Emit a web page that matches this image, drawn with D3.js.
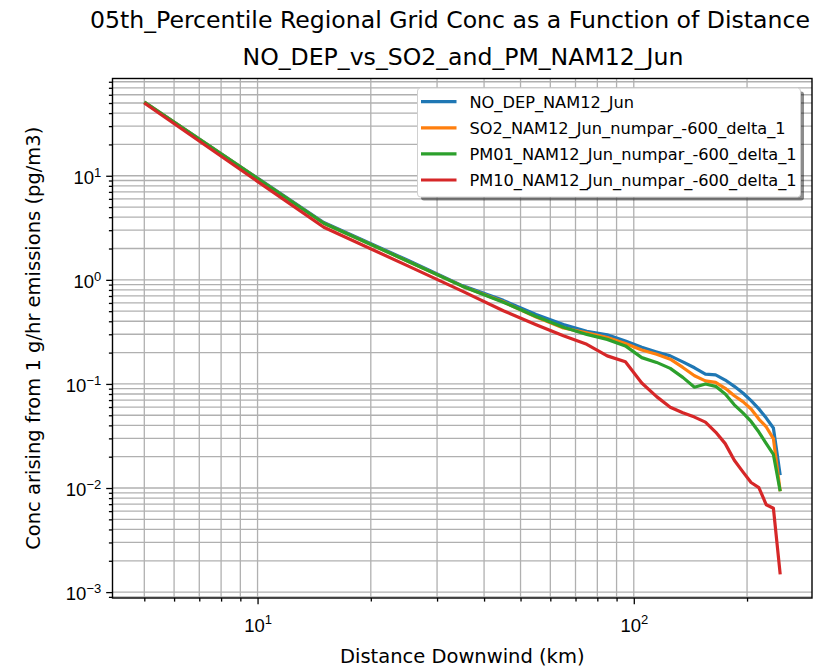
<!DOCTYPE html>
<html>
<head>
<meta charset="utf-8">
<script src="https://cdn.jsdelivr.net/npm/d3@7"></script>
<style>
  body { margin: 0; background: #fff; }
  svg { display: block; font-family: "DejaVu Sans", sans-serif; }
</style>
</head>
<body>
<div id="chart"></div>
<script>
// distance bins (km)
const distance = [5, 15, 25, 35, 45, 55, 65, 75, 85, 95, 105, 115, 125, 135, 145, 155, 165, 175, 185, 195, 205, 215, 225, 235, 245]

// conc per series (pg/m3 from 1 g/hr)
const noDep = [51, 3.55, 1.55, 0.88, 0.635, 0.465, 0.372, 0.32, 0.297, 0.258, 0.225, 0.203, 0.186, 0.163, 0.143, 0.124, 0.122, 0.109, 0.0948, 0.0819, 0.0692, 0.0576, 0.047, 0.0377, 0.0133]
const so2 = [51, 3.5, 1.52, 0.87, 0.615, 0.44, 0.345, 0.31, 0.279, 0.245, 0.212, 0.193, 0.173, 0.144, 0.12, 0.107, 0.1035, 0.0907, 0.077, 0.0676, 0.0575, 0.046, 0.0386, 0.0298, 0.0093]
const pm01 = [51, 3.5, 1.52, 0.87, 0.61, 0.445, 0.35, 0.299, 0.268, 0.232, 0.179, 0.161, 0.141, 0.1156, 0.093, 0.0998, 0.0948, 0.08, 0.063, 0.0527, 0.0436, 0.0345, 0.0267, 0.021, 0.0093]
const pm10 = [50, 3.2, 1.37, 0.78, 0.505, 0.37, 0.29, 0.24, 0.186, 0.163, 0.102, 0.0755, 0.0598, 0.0528, 0.048, 0.043, 0.0345, 0.0267, 0.0185, 0.0143, 0.0113, 0.0101, 0.0069, 0.0064, 0.00148]

const seriesNames = [
  "NO_DEP_NAM12_Jun",
  "SO2_NAM12_Jun_numpar_-600_delta_1",
  "PM01_NAM12_Jun_numpar_-600_delta_1",
  "PM10_NAM12_Jun_numpar_-600_delta_1"
]
const colors = ["#1f77b4", "#ff7f0e", "#2ca02c", "#d62728"]

const titleLines = [
  "05th_Percentile Regional Grid Conc as a Function of Distance",
  "NO_DEP_vs_SO2_and_PM_NAM12_Jun"
]
const xLabel = "Distance Downwind (km)"
const yLabel = "Conc arising from 1 g/hr emissions (pg/m3)"

;(function () {
  const width = 816
  const height = 668
  const plot = { left: 112.5, right: 812, top: 78.5, bottom: 598 }

  const series = [noDep, so2, pm01, pm10].map((vals, i) => ({
    name: seriesNames[i],
    color: colors[i],
    points: distance.map((d, j) => ({ x: d, y: vals[j] }))
  }))

  // matplotlib style 5% margins in log space
  function logPad(lo, hi) {
    const a = Math.log10(lo), b = Math.log10(hi)
    const p = (b - a) * 0.05
    return [Math.pow(10, a - p), Math.pow(10, b + p)]
  }
  const allY = [].concat(noDep, so2, pm01, pm10)

  const x = d3.scaleLog()
    .domain(logPad(d3.min(distance), d3.max(distance)))
    .range([plot.left, plot.right])
  const y = d3.scaleLog()
    .domain(logPad(d3.min(allY), d3.max(allY)))
    .range([plot.bottom, plot.top])

  const svg = d3.select("#chart")
    .append("svg")
    .attr("width", width)
    .attr("height", height)

  // tick values
  function logTicks(scale) {
    const [lo, hi] = scale.domain()
    const major = [], minor = []
    for (let k = Math.floor(Math.log10(lo)); k <= Math.ceil(Math.log10(hi)); k++) {
      for (let m = 1; m < 10; m++) {
        const v = m * Math.pow(10, k)
        if (v < lo || v > hi) continue
        if (m === 1) major.push(v)
        else minor.push(v)
      }
    }
    return { major, minor }
  }
  const xt = logTicks(x)
  const yt = logTicks(y)

  // grid (major + minor)
  const grid = svg.append("g").attr("stroke", "#b0b0b0").attr("stroke-width", 1.3)
  grid.selectAll(".gx")
    .data(xt.major.concat(xt.minor))
    .join("line")
    .attr("x1", d => x(d)).attr("x2", d => x(d))
    .attr("y1", plot.top).attr("y2", plot.bottom)
  grid.selectAll(".gy")
    .data(yt.major.concat(yt.minor))
    .join("line")
    .attr("y1", d => y(d)).attr("y2", d => y(d))
    .attr("x1", plot.left).attr("x2", plot.right)

  // lines
  const line = d3.line().x(d => x(d.x)).y(d => y(d.y))
  svg.append("g")
    .selectAll("path")
    .data(series)
    .join("path")
    .attr("d", d => line(d.points))
    .attr("fill", "none")
    .attr("stroke", d => d.color)
    .attr("stroke-width", 3.2)
    .attr("stroke-linejoin", "round")

  // superscript labels like 10^k
  function powLabel(sel) {
    sel.text(null).each(function (d) {
      const t = d3.select(this)
      t.append("tspan").text("10")
      t.append("tspan")
        .attr("dy", "-0.55em")
        .style("font-size", "13px")
        .text(Math.round(Math.log10(d)).toString().replace("-", "\u2212"))
    })
  }

  // x axis
  const xMajor = svg.append("g").attr("transform", `translate(0,${plot.bottom})`)
    .call(d3.axisBottom(x).tickValues(xt.major).tickSize(6.3).tickPadding(6))
  xMajor.selectAll(".tick text")
    .style("font-size", "18.5px")
    .attr("fill", "#000")
    .attr("dy", "1.15em")
    .call(powLabel)
  svg.append("g").attr("transform", `translate(0,${plot.bottom})`)
    .call(d3.axisBottom(x).tickValues(xt.minor).tickSize(3.6).tickFormat(""))

  // y axis
  const yMajor = svg.append("g").attr("transform", `translate(${plot.left},0)`)
    .call(d3.axisLeft(y).tickValues(yt.major).tickSize(6.3).tickPadding(5))
  yMajor.selectAll(".tick text")
    .style("font-size", "18.5px")
    .attr("fill", "#000")
    .attr("dy", "0.42em")
    .call(powLabel)
  svg.append("g").attr("transform", `translate(${plot.left},0)`)
    .call(d3.axisLeft(y).tickValues(yt.minor).tickSize(3.6).tickFormat(""))

  svg.selectAll(".domain").remove()
  svg.selectAll(".tick line").attr("stroke", "#000").attr("stroke-width", 1.3)

  // frame
  svg.append("rect")
    .attr("x", plot.left).attr("y", plot.top)
    .attr("width", plot.right - plot.left)
    .attr("height", plot.bottom - plot.top)
    .attr("fill", "none")
    .attr("stroke", "#000")
    .attr("stroke-width", 1.4)

  // titles
  svg.append("text")
    .attr("x", 450).attr("y", 28)
    .attr("text-anchor", "middle")
    .style("font-size", "23.6px")
    .text(titleLines[0])
  svg.append("text")
    .attr("x", 463).attr("y", 64.5)
    .attr("text-anchor", "middle")
    .style("font-size", "23.6px")
    .text(titleLines[1])

  // axis labels
  svg.append("text")
    .attr("x", (plot.left + plot.right) / 2).attr("y", 663)
    .attr("text-anchor", "middle")
    .style("font-size", "19.5px")
    .text(xLabel)
  svg.append("text")
    .attr("transform", `translate(40,${(plot.top + plot.bottom) / 2}) rotate(-90)`)
    .attr("text-anchor", "middle")
    .style("font-size", "19.5px")
    .text(yLabel)

  // legend
  const lg = { x: 417.5, y: 88, w: 383, h: 109 }
  const legend = svg.append("g")
  legend.append("rect")
    .attr("x", lg.x + 3.5).attr("y", lg.y + 3.5)
    .attr("width", lg.w).attr("height", lg.h)
    .attr("rx", 3)
    .attr("fill", "#000").attr("opacity", 0.45)
  legend.append("rect")
    .attr("x", lg.x).attr("y", lg.y)
    .attr("width", lg.w).attr("height", lg.h)
    .attr("rx", 3)
    .attr("fill", "#fff")
    .attr("stroke", "#d0d0d0")
  const item = legend.selectAll(".item")
    .data(series)
    .join("g")
    .attr("transform", (d, i) => `translate(0,${101.7 + i * 26.1})`)
  item.append("line")
    .attr("x1", 421).attr("x2", 456.5)
    .attr("stroke", d => d.color)
    .attr("stroke-width", 3.2)
  item.append("text")
    .attr("x", 469.5).attr("y", 5.8)
    .style("font-size", "16.2px")
    .text(d => d.name)
})()
</script>
</body>
</html>
